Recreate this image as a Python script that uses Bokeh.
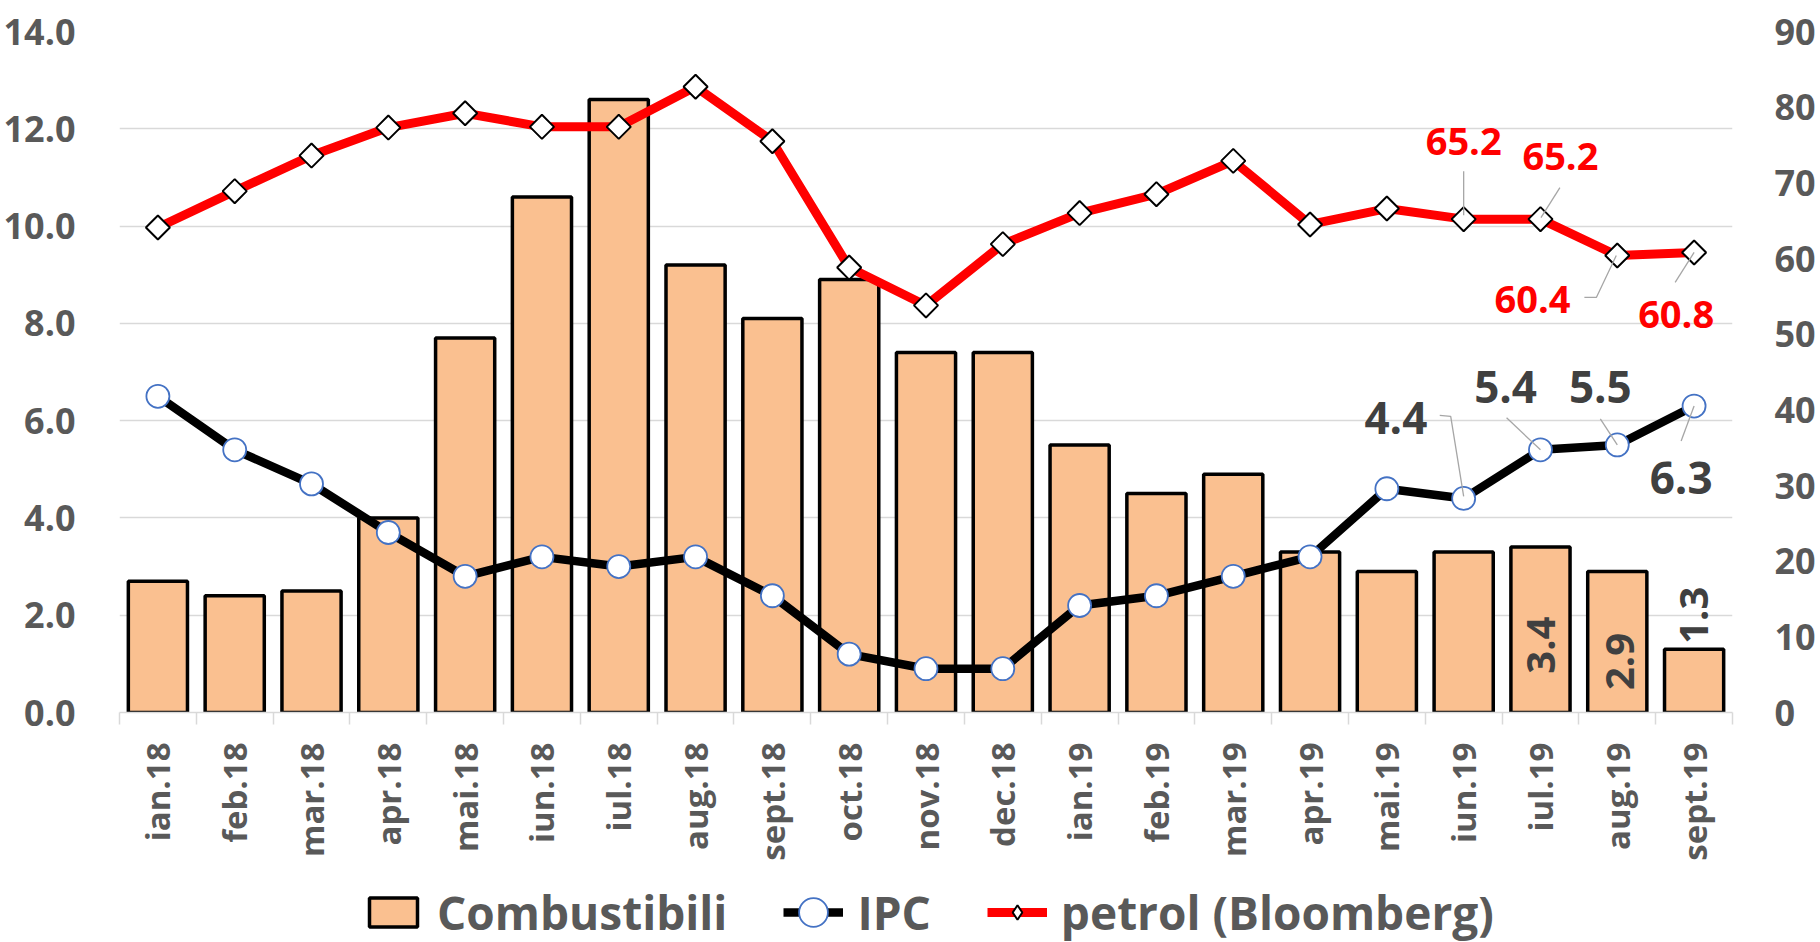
import math
from bokeh.plotting import figure
from bokeh.layouts import column
from bokeh.models import (ColumnDataSource, Range1d, LinearAxis, FixedTicker,
                          NumeralTickFormatter, Legend, LegendItem)
from bokeh.core.properties import value
from bokeh.embed import file_html
from bokeh.resources import INLINE

# ---------------- data ----------------
months = ["ian.18", "feb.18", "mar.18", "apr.18", "mai.18", "iun.18", "iul.18",
          "aug.18", "sept.18", "oct.18", "nov.18", "dec.18", "ian.19", "feb.19",
          "mar.19", "apr.19", "mai.19", "iun.19", "iul.19", "aug.19", "sept.19"]
combustibili = [2.7, 2.4, 2.5, 4.0, 7.7, 10.6, 12.6, 9.2, 8.1, 8.9, 7.4, 7.4,
                5.5, 4.5, 4.9, 3.3, 2.9, 3.3, 3.4, 2.9, 1.3]
ipc = [6.5, 5.4, 4.7, 3.7, 2.8, 3.2, 3.0, 3.2, 2.4, 1.2, 0.9, 0.9,
       2.2, 2.4, 2.8, 3.2, 4.6, 4.4, 5.4, 5.5, 6.3]
petrol = [64.1, 68.9, 73.6, 77.3, 79.2, 77.4, 77.4, 82.7, 75.5, 58.8, 53.8, 61.9,
          66.0, 68.5, 72.9, 64.5, 66.6, 65.2, 65.2, 60.4, 60.8]
left_ticks = [0, 2, 4, 6, 8, 10, 12, 14]
right_ticks = [0, 10, 20, 30, 40, 50, 60, 70, 80, 90]
series_names = ["Combustibili", "IPC", "petrol (Bloomberg)"]

# ---------------- style / layout ----------------
FONT = "Open Sans"
GRAY = "#595959"
DARK = "#404040"
GRID = "#d9d9d9"
BAR_FILL = "#FAC090"
RED = "#FF0000"
BLUE = "#4472C4"
W = 1818
H1, H2 = 864, 78
FL, FR, FT = 119, 81, 31
FH = 681
FB = H1 - FT - FH
FW = W - FL - FR
n = len(months)
PX_X = FW / n
PX_L = FH / left_ticks[-1]
PX_R = FH / right_ticks[-1]

xc = [i + 0.5 for i in range(n)]

# label placement (pixel offsets from the data point; +dy = down)
pet_lab = {17: (0, -78, [(0, -48), (0, -4)]),
           18: (20, -63, [(19.5, -31.6), (0.5, -1.6)]),
           19: (-85, 44, [(-33, 42), (-21, 42), (-1, 0)]),
           20: (-18, 62, [(-19, 30), (0, 0)])}
ipc_lab = {17: (-68, -80, [(-24, -83), (-13, -82), (0, -2)]),
           18: (-35, -63, [(-34, -32), (0, 0)]),
           19: (-17, -58, [(-17, -26), (0, 0)]),
           20: (-13, 72, [(-13, 35), (0, 0)])}
bar_lab = {18: (1, 98), 19: (3, 90), 20: (0, -34)}


def shift(i, v, scale, dx, dy):
    return xc[i] + dx / PX_X, v - dy / scale


p = figure(width=W, height=H1, x_range=Range1d(0, n), y_range=Range1d(0, left_ticks[-1]),
           output_backend="svg", toolbar_location=None,
           min_border_left=FL, min_border_right=FR, min_border_top=FT, min_border_bottom=FB)
p.outline_line_color = None
p.extra_y_ranges = {"right": Range1d(0, right_ticks[-1])}

# x axis
xa = p.xaxis[0]
xa.ticker = FixedTicker(ticks=xc, minor_ticks=list(range(n + 1)))
xa.major_label_overrides = {x: m for x, m in zip(xc, months)}
xa.major_label_orientation = math.pi / 2
xa.major_tick_out = 0
xa.major_tick_in = 0
xa.minor_tick_out = 12
xa.minor_tick_in = 0
xa.minor_tick_line_color = GRID
xa.minor_tick_line_width = 1.5
xa.axis_line_color = GRID
xa.axis_line_width = 1.5
xa.major_label_standoff = 18
xa.major_label_text_font = FONT
xa.major_label_text_font_size = "33px"
xa.major_label_text_font_style = "bold"
xa.major_label_text_color = GRAY

# left axis
ya = p.yaxis[0]
ya.ticker = FixedTicker(ticks=left_ticks)
ya.formatter = NumeralTickFormatter(format="0.0")
ya.axis_line_color = None
ya.major_tick_line_color = None
ya.minor_tick_line_color = None
ya.major_label_standoff = 38
ya.major_label_text_font = FONT
ya.major_label_text_font_size = "36px"
ya.major_label_text_font_style = "bold"
ya.major_label_text_color = GRAY

# right axis
ra = LinearAxis(y_range_name="right", ticker=FixedTicker(ticks=right_ticks))
ra.axis_line_color = None
ra.major_tick_line_color = None
ra.minor_tick_line_color = None
ra.major_label_standoff = 36
ra.major_label_text_font = FONT
ra.major_label_text_font_size = "36px"
ra.major_label_text_font_style = "bold"
ra.major_label_text_color = GRAY
p.add_layout(ra, "right")

p.xgrid.visible = False
p.ygrid[0].ticker = FixedTicker(ticks=left_ticks)
p.ygrid.grid_line_color = GRID
p.ygrid.grid_line_width = 1.3

src = ColumnDataSource(dict(x=xc, month=months, comb=combustibili, ipc=ipc, petrol=petrol))

BAR_STYLE = dict(fill_color=BAR_FILL, line_color="black", line_width=3.5)
IPC_LINE = dict(line_color="black", line_width=8.5, line_join="round")
IPC_MARK = dict(fill_color="white", line_color=BLUE, line_width=1.8)
PET_LINE = dict(line_color=RED, line_width=9, line_join="round")
PET_MARK = dict(fill_color="white", line_color="black", line_width=2)

p.vbar(x="x", top="comb", bottom=0, width=0.77, source=src, **BAR_STYLE)
p.line("x", "ipc", source=src, **IPC_LINE)
p.scatter("x", "ipc", source=src, marker="circle", size=23, **IPC_MARK)
p.line("x", "petrol", source=src, y_range_name="right", **PET_LINE)
p.scatter("x", "petrol", source=src, y_range_name="right", marker="square",
          angle=math.pi / 4, size=17, **PET_MARK)


# leader lines
def leaders(spec, vals, scale):
    xs, ys = [], []
    for i, (_, _, pts) in spec.items():
        lx, ly = [], []
        for dx, dy in pts:
            a, b = shift(i, vals[i], scale, dx, dy)
            lx.append(a)
            ly.append(b)
        xs.append(lx)
        ys.append(ly)
    return xs, ys


lxs, lys = leaders(pet_lab, petrol, PX_R)
p.multi_line(lxs, lys, y_range_name="right", line_color="#a6a6a6", line_width=1.3)
lxs, lys = leaders(ipc_lab, ipc, PX_L)
p.multi_line(lxs, lys, line_color="#a6a6a6", line_width=1.3)


# data labels
def label_src(spec, vals, scale):
    tx, ty, tt = [], [], []
    for i, (dx, dy, _) in spec.items():
        a, b = shift(i, vals[i], scale, dx, dy)
        tx.append(a)
        ty.append(b)
        tt.append(f"{vals[i]:.1f}")
    return ColumnDataSource(dict(x=tx, y=ty, t=tt))


p.text("x", "y", text="t", source=label_src(pet_lab, petrol, PX_R), y_range_name="right",
       text_font=value(FONT), text_font_style="bold", text_font_size="38px",
       text_color=RED, text_align="center", text_baseline="middle")
p.text("x", "y", text="t", source=label_src(ipc_lab, ipc, PX_L),
       text_font=value(FONT), text_font_style="bold", text_font_size="44px",
       text_color=DARK, text_align="center", text_baseline="middle")

bx, by, bt = [], [], []
for i, (dx, dy) in bar_lab.items():
    a, b = shift(i, combustibili[i], PX_L, dx, dy)
    bx.append(a)
    by.append(b)
    bt.append(f"{combustibili[i]:.1f}")
p.text(bx, by, text=bt, angle=math.pi / 2,
       text_font=value(FONT), text_font_style="bold", text_font_size="40px",
       text_color=DARK, text_align="center", text_baseline="middle")

# ---------------- legend strip ----------------
q = figure(width=W, height=H2, x_range=Range1d(0, 1), y_range=Range1d(0, 1),
           output_backend="svg", toolbar_location=None, min_border=0,
           x_axis_location=None, y_axis_location=None)
q.grid.visible = False
q.outline_line_color = None
nan = float("nan")
lg_bar = q.vbar(x=[nan], top=[nan], width=0.1, **BAR_STYLE)
lg_ipc_l = q.line([nan], [nan], **IPC_LINE)
lg_ipc_m = q.ellipse(x=[5], y=[0.5], width=24, height=24, width_units="screen",
                     height_units="screen", **IPC_MARK)
lg_pet_l = q.line([nan], [nan], **PET_LINE)
lg_pet_m = q.scatter([5], [0.5], marker="diamond", size=20, **PET_MARK)

legend = Legend(items=[LegendItem(label=series_names[0], renderers=[lg_bar]),
                       LegendItem(label=series_names[1], renderers=[lg_ipc_l, lg_ipc_m]),
                       LegendItem(label=series_names[2], renderers=[lg_pet_l, lg_pet_m])],
                orientation="horizontal", location=(244, -1),
                glyph_width=60, glyph_height=36, spacing=56, label_standoff=14,
                padding=0, margin=0, border_line_color=None, background_fill_alpha=0,
                label_text_font=FONT, label_text_font_size="46px",
                label_text_font_style="bold", label_text_color=GRAY)
q.add_layout(legend)

layout = column(p, q, spacing=0)
open("out.html", "w").write(file_html(layout, INLINE))
